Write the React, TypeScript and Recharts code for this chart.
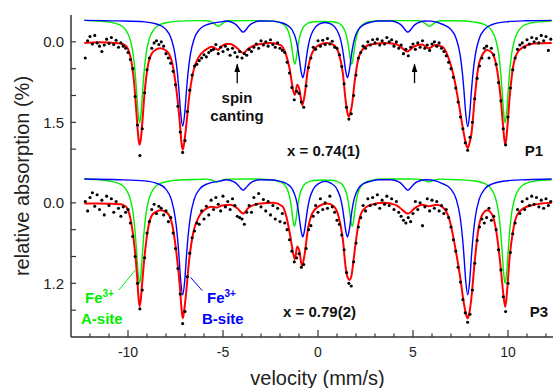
import React from 'react';
import { ComposedChart, Line, Scatter, XAxis, YAxis, ReferenceLine } from 'recharts';

// velocity channels: -12.25 ... 12.25 mm/s, step 0.125
const V_START = -12.25;
const V_STEP = 0.125;

// measured absorption (%), panel P1
const topDots = [
  0.30, -0.02, -0.10, 0.04, -0.12, 0.02, 0.08, 0.18, 0.06, -0.05, 0.03, -0.08, 0.05, -0.03, 0.10,
  0.02, 0.08, 0.12, 0.20, 0.33, 0.50, 1.02, 1.55, 2.12, 1.62, 0.95, 0.52, 0.30, 0.12, 0.02,
  -0.02, 0.05, 0.00, 0.08, 0.22, 0.30, 0.40, 0.55, 0.80, 1.20, 1.68, 2.06, 1.84, 1.30, 0.90,
  0.62, 0.45, 0.42, 0.35, 0.30, 0.24, 0.28, 0.20, 0.16, 0.14, 0.05, 0.22, 0.10, 0.18, 0.08,
  0.14, 0.25, 0.12, 0.20, 0.28, 0.18, 0.30, 0.22, 0.25, 0.14, 0.18, 0.10, 0.04, 0.12, -0.02,
  0.06, 0.00, 0.08, -0.04, 0.05, 0.10, 0.02, 0.12, 0.16, 0.20, 0.38, 0.58, 0.85, 1.08, 0.92,
  0.96, 1.12, 1.22, 0.82, 0.48, 0.30, 0.10, 0.14, -0.02, 0.08, -0.03, 0.05, -0.06, 0.04, -0.01,
  0.10, 0.12, 0.24, 0.46, 0.78, 1.22, 1.44, 1.34, 1.00, 0.62, 0.30, 0.20, 0.08, 0.12, 0.00,
  0.06, -0.04, 0.02, -0.05, 0.06, -0.02, 0.04, -0.08, 0.00, -0.04, 0.08, 0.00, 0.12, 0.06, 0.22,
  0.14, 0.26, 0.10, 0.04, 0.14, 0.02, 0.10, -0.02, 0.12, 0.06, 0.16, 0.04, 0.00, 0.08, 0.02,
  0.12, 0.18, 0.26, 0.38, 0.50, 0.66, 0.86, 1.12, 1.40, 1.62, 1.88, 2.02, 1.78, 1.50, 1.06,
  0.68, 0.45, 0.30, 0.12, 0.08, 0.30, 0.12, 0.24, 0.42, 0.76, 1.10, 1.62, 1.92, 1.40, 0.86,
  0.52, 0.30, 0.14, 0.06, 0.02, 0.10, -0.04, 0.04, -0.08, 0.00, -0.06, 0.02, -0.12, -0.02, -0.10, 0.16, -0.05,
];

// measured absorption (%), panel P3
const bottomDots = [
  -0.02, 0.12, -0.08, -0.15, 0.05, -0.12, 0.10, -0.04, 0.18, -0.10, 0.04, -0.06, 0.14, -0.02, 0.08,
  0.20, 0.06, 0.14, 0.10, 0.30, 0.50, 0.80, 1.20, 1.58, 1.30, 0.82, 0.45, 0.28, 0.10, 0.02,
  0.16, 0.05, 0.08, 0.18, 0.12, 0.28, 0.22, 0.45, 0.68, 0.98, 1.36, 1.80, 1.62, 1.10, 0.75,
  0.52, 0.42, 0.30, 0.32, 0.12, 0.24, 0.05, 0.18, -0.04, 0.10, -0.08, 0.02, 0.12, -0.10, 0.06,
  -0.02, 0.10, -0.06, 0.04, 0.20, 0.22, 0.24, 0.32, 0.14, 0.04, 0.14, -0.08, 0.02, -0.14, 0.06,
  -0.05, 0.12, -0.02, 0.18, 0.04, 0.24, 0.08, 0.28, 0.16, 0.30, 0.40, 0.55, 0.72, 0.88, 0.82,
  0.76, 0.96, 0.92, 0.68, 0.40, 0.34, 0.20, 0.04, 0.14, -0.06, 0.10, 0.00, 0.08, -0.10, 0.06,
  0.14, 0.26, 0.32, 0.48, 0.70, 1.04, 1.20, 1.24, 0.88, 0.60, 0.36, 0.22, 0.04, 0.12, -0.06,
  0.04, -0.08, 0.02, -0.12, 0.08, -0.04, 0.02, -0.10, 0.04, -0.06, 0.10, -0.02, 0.14, 0.20, 0.26,
  0.30, 0.22, 0.28, 0.16, -0.02, 0.10, 0.00, 0.34, 0.06, -0.06, 0.12, -0.04, 0.08, -0.02, 0.12,
  0.04, 0.16, 0.10, 0.22, 0.36, 0.55, 0.72, 0.96, 1.18, 1.44, 1.64, 1.78, 1.66, 1.30, 0.90,
  0.56, 0.36, 0.24, 0.30, 0.22, 0.08, 0.26, 0.20, 0.40, 0.70, 1.00, 1.40, 1.62, 1.20, 0.74,
  0.46, 0.30, 0.10, 0.16, -0.02, 0.10, -0.06, 0.04, -0.10, 0.02, -0.08, 0.06, -0.04, 0.08, -0.06, 0.04, -0.02,
];

// fitted curves, [velocity, absorption]
const topFit: [number, number][] = [
  [-12.3, 0.02], [-11.5, 0.01], [-10.8, 0.02], [-10.39, 0.03], [-10.13, 0.07], [-9.87, 0.28],
  [-9.69, 0.72], [-9.55, 1.35], [-9.45, 1.8], [-9.39, 1.92], [-9.32, 1.8], [-9.25, 1.52],
  [-9.13, 0.96], [-8.96, 0.46], [-8.73, 0.21], [-8.5, 0.14], [-8.29, 0.12], [-7.94, 0.18],
  [-7.67, 0.4], [-7.45, 0.9], [-7.27, 1.52], [-7.18, 1.9], [-7.12, 2.01], [-7.05, 1.9],
  [-6.94, 1.58], [-6.78, 1.02], [-6.57, 0.56], [-6.27, 0.28], [-5.92, 0.15], [-5.57, 0.09],
  [-5.4, 0.12], [-5.27, 0.15], [-5.1, 0.09], [-4.85, 0.04], [-4.61, 0.04], [-4.25, 0.12],
  [-3.94, 0.21], [-3.64, 0.12], [-3.2, 0.05], [-2.5, 0.02], [-1.97, 0.06], [-1.71, 0.21],
  [-1.48, 0.53], [-1.31, 0.9], [-1.22, 0.99], [-1.09, 0.8], [-0.97, 0.9], [-0.83, 1.18],
  [-0.69, 0.96], [-0.54, 0.53], [-0.31, 0.21], [0.04, 0.06], [0.48, 0.02], [0.83, 0.06],
  [1.09, 0.21], [1.31, 0.59], [1.45, 1.08], [1.55, 1.32], [1.62, 1.39], [1.7, 1.32],
  [1.8, 1.15], [1.92, 0.77], [2.09, 0.37], [2.33, 0.15], [2.76, 0.05], [3.46, 0.02],
  [4.08, 0.04], [4.34, 0.09], [4.69, 0.18], [5.04, 0.09], [5.48, 0.05], [5.83, 0.12],
  [6.18, 0.06], [6.54, 0.09], [6.88, 0.31], [7.15, 0.65], [7.41, 1.15], [7.64, 1.64],
  [7.8, 1.92], [7.88, 1.98], [7.98, 1.88], [8.08, 1.7], [8.24, 1.08], [8.41, 0.53],
  [8.64, 0.25], [8.91, 0.15], [9.17, 0.21], [9.43, 0.53], [9.61, 1.02], [9.73, 1.52],
  [9.85, 1.92], [9.91, 1.8], [9.97, 1.58], [10.09, 1.02], [10.27, 0.46], [10.48, 0.21],
  [10.83, 0.09], [11.36, 0.03], [12.3, 0.02],
];

const topA: [number, number][] = [
  [-12.3, -0.4], [-11.5, -0.385], [-10.99, -0.368], [-10.49, -0.324], [-10.14, -0.231], [-9.89, -0.045],
  [-9.74, 0.204], [-9.63, 0.55], [-9.55, 0.915], [-9.47, 1.318], [-9.39, 1.51], [-9.31, 1.318],
  [-9.23, 0.915], [-9.15, 0.55], [-9.04, 0.204], [-8.89, -0.045], [-8.64, -0.231], [-8.29, -0.324],
  [-7.79, -0.368], [-7.0, -0.39], [-6.2, -0.395], [-5.85, -0.392], [-5.55, -0.36], [-5.4, -0.322],
  [-5.25, -0.29], [-5.1, -0.322], [-4.95, -0.36], [-4.65, -0.392], [-3.5, -0.395], [-2.5, -0.39],
  [-2.22, -0.378], [-1.92, -0.348], [-1.67, -0.273], [-1.52, -0.153], [-1.42, 0.005], [-1.36, 0.146],
  [-1.29, 0.329], [-1.22, 0.42], [-1.15, 0.329], [-1.08, 0.146], [-1.02, 0.005], [-0.92, -0.153],
  [-0.77, -0.273], [-0.52, -0.348], [-0.22, -0.375], [0.27, -0.38], [0.77, -0.375], [1.07, -0.348],
  [1.32, -0.273], [1.47, -0.153], [1.57, 0.005], [1.63, 0.146], [1.7, 0.329], [1.77, 0.42],
  [1.84, 0.329], [1.91, 0.146], [1.97, 0.005], [2.07, -0.153], [2.22, -0.273], [2.47, -0.348],
  [2.77, -0.378], [3.5, -0.395], [4.6, -0.395], [5.27, -0.392], [5.57, -0.36], [5.72, -0.322],
  [5.87, -0.29], [6.02, -0.322], [6.17, -0.36], [6.47, -0.392], [7.3, -0.393], [8.25, -0.368],
  [8.75, -0.324], [9.1, -0.231], [9.35, -0.045], [9.5, 0.204], [9.61, 0.55], [9.69, 0.915],
  [9.77, 1.318], [9.85, 1.51], [9.93, 1.318], [10.01, 0.915], [10.09, 0.55], [10.2, 0.204],
  [10.35, -0.045], [10.6, -0.231], [10.95, -0.324], [11.45, -0.368], [12.3, -0.385],
];

const topB: [number, number][] = [
  [-12.3, -0.4], [-10.5, -0.39], [-9.12, -0.372], [-8.42, -0.323], [-8.02, -0.236], [-7.72, -0.054],
  [-7.52, 0.243], [-7.4, 0.58], [-7.32, 0.897], [-7.22, 1.352], [-7.12, 1.57], [-7.02, 1.352],
  [-6.92, 0.897], [-6.84, 0.58], [-6.72, 0.243], [-6.52, -0.054], [-6.22, -0.236], [-5.82, -0.323],
  [-5.12, -0.372], [-4.84, -0.387], [-4.44, -0.349], [-4.24, -0.295], [-4.09, -0.226], [-3.94, -0.18],
  [-3.79, -0.226], [-3.64, -0.295], [-3.44, -0.349], [-3.04, -0.387], [-2.44, -0.385], [-2.05, -0.366],
  [-1.65, -0.317], [-1.35, -0.216], [-1.17, -0.054], [-1.06, 0.13], [-0.98, 0.324], [-0.89, 0.551],
  [-0.8, 0.67], [-0.71, 0.551], [-0.62, 0.324], [-0.54, 0.13], [-0.43, -0.054], [-0.25, -0.216],
  [0.05, -0.33], [0.37, -0.36], [0.7, -0.33], [1.0, -0.216], [1.18, -0.054], [1.29, 0.13],
  [1.37, 0.324], [1.46, 0.551], [1.55, 0.67], [1.64, 0.551], [1.73, 0.324], [1.81, 0.13],
  [1.92, -0.054], [2.1, -0.216], [2.4, -0.317], [2.8, -0.366], [3.2, -0.387], [3.83, -0.387],
  [4.23, -0.349], [4.43, -0.295], [4.58, -0.226], [4.73, -0.18], [4.88, -0.226], [5.03, -0.295],
  [5.23, -0.349], [5.63, -0.387], [5.95, -0.385], [6.58, -0.323], [6.98, -0.236], [7.28, -0.054],
  [7.48, 0.243], [7.6, 0.58], [7.68, 0.897], [7.78, 1.352], [7.88, 1.58], [7.98, 1.352],
  [8.08, 0.897], [8.16, 0.58], [8.28, 0.243], [8.48, -0.054], [8.78, -0.236], [9.18, -0.323],
  [9.88, -0.372], [11.0, -0.392], [12.3, -0.4],
];

const bottomFit: [number, number][] = [
  [-12.3, 0.01], [-11.5, 0.01], [-10.8, 0.015], [-10.39, 0.02], [-10.2, 0.04], [-10.04, 0.08],
  [-9.82, 0.31], [-9.64, 0.7], [-9.52, 1.1], [-9.45, 1.4], [-9.39, 1.54], [-9.33, 1.45],
  [-9.27, 1.25], [-9.13, 0.8], [-8.96, 0.41], [-8.73, 0.18], [-8.5, 0.13], [-8.29, 0.11],
  [-7.94, 0.15], [-7.67, 0.33], [-7.45, 0.75], [-7.27, 1.25], [-7.19, 1.55], [-7.12, 1.72],
  [-7.05, 1.62], [-6.96, 1.4], [-6.78, 0.85], [-6.57, 0.45], [-6.27, 0.21], [-5.83, 0.08],
  [-5.55, 0.06], [-5.31, 0.07], [-5.05, 0.04], [-4.61, 0.03], [-4.25, 0.08], [-3.94, 0.16],
  [-3.64, 0.07], [-3.03, 0.01], [-2.33, 0.0], [-1.88, 0.05], [-1.66, 0.21], [-1.45, 0.51],
  [-1.31, 0.75], [-1.22, 0.84], [-1.09, 0.65], [-0.97, 0.73], [-0.85, 0.94], [-0.71, 0.78],
  [-0.54, 0.41], [-0.31, 0.16], [0.04, 0.05], [0.48, 0.01], [0.83, 0.05], [1.09, 0.21],
  [1.31, 0.55], [1.45, 0.95], [1.57, 1.12], [1.66, 1.15], [1.75, 1.1], [1.83, 0.95],
  [1.96, 0.65], [2.13, 0.31], [2.36, 0.11], [2.76, 0.03], [3.46, 0.0], [4.08, 0.03],
  [4.34, 0.08], [4.73, 0.16], [5.13, 0.07], [5.48, 0.03], [5.83, 0.05], [6.27, 0.03],
  [6.62, 0.08], [6.94, 0.27], [7.18, 0.6], [7.45, 1.05], [7.68, 1.5], [7.8, 1.67],
  [7.88, 1.72], [7.98, 1.62], [8.08, 1.4], [8.24, 0.9], [8.41, 0.45], [8.64, 0.18],
  [8.91, 0.11], [9.17, 0.18], [9.43, 0.51], [9.61, 0.95], [9.75, 1.35], [9.85, 1.55],
  [9.91, 1.45], [9.97, 1.25], [10.09, 0.8], [10.27, 0.41], [10.48, 0.18], [10.83, 0.08],
  [11.36, 0.03], [12.3, 0.0],
];

const bottomA: [number, number][] = [
  [-12.3, -0.355], [-11.5, -0.345], [-10.99, -0.326], [-10.49, -0.29], [-10.14, -0.215], [-9.89, -0.064],
  [-9.74, 0.139], [-9.63, 0.42], [-9.55, 0.716], [-9.47, 1.044], [-9.39, 1.2], [-9.31, 1.044],
  [-9.23, 0.716], [-9.15, 0.42], [-9.04, 0.139], [-8.89, -0.064], [-8.64, -0.215], [-8.29, -0.29],
  [-7.79, -0.326], [-7.0, -0.345], [-6.2, -0.35], [-5.9, -0.353], [-5.6, -0.34], [-5.45, -0.323],
  [-5.3, -0.31], [-5.15, -0.323], [-5.0, -0.34], [-4.7, -0.353], [-3.5, -0.355], [-2.5, -0.345],
  [-2.24, -0.333], [-1.94, -0.307], [-1.69, -0.243], [-1.54, -0.14], [-1.44, -0.005], [-1.38, 0.116],
  [-1.31, 0.272], [-1.24, 0.35], [-1.17, 0.272], [-1.1, 0.116], [-1.04, -0.005], [-0.94, -0.14],
  [-0.79, -0.243], [-0.54, -0.307], [-0.24, -0.333], [0.28, -0.34], [0.8, -0.333], [1.1, -0.307],
  [1.35, -0.243], [1.5, -0.14], [1.6, -0.005], [1.66, 0.116], [1.73, 0.272], [1.8, 0.35],
  [1.87, 0.272], [1.94, 0.116], [2.0, -0.005], [2.1, -0.14], [2.25, -0.243], [2.5, -0.307],
  [2.8, -0.333], [3.5, -0.355], [4.6, -0.355], [5.23, -0.353], [5.53, -0.34], [5.68, -0.323],
  [5.83, -0.31], [5.98, -0.323], [6.13, -0.34], [6.43, -0.353], [7.3, -0.345], [8.25, -0.326],
  [8.75, -0.29], [9.1, -0.215], [9.35, -0.064], [9.5, 0.139], [9.61, 0.42], [9.69, 0.716],
  [9.77, 1.044], [9.85, 1.2], [9.93, 1.044], [10.01, 0.716], [10.09, 0.42], [10.2, 0.139],
  [10.35, -0.064], [10.6, -0.215], [10.95, -0.29], [11.45, -0.326], [12.3, -0.345],
];

const bottomB: [number, number][] = [
  [-12.3, -0.355], [-10.5, -0.345], [-9.12, -0.327], [-8.42, -0.284], [-8.02, -0.208], [-7.72, -0.049],
  [-7.52, 0.211], [-7.4, 0.505], [-7.32, 0.782], [-7.22, 1.18], [-7.12, 1.37], [-7.02, 1.18],
  [-6.92, 0.782], [-6.84, 0.505], [-6.72, 0.211], [-6.52, -0.049], [-6.22, -0.208], [-5.82, -0.284],
  [-5.12, -0.327], [-4.84, -0.343], [-4.44, -0.315], [-4.24, -0.275], [-4.09, -0.224], [-3.94, -0.19],
  [-3.79, -0.224], [-3.64, -0.275], [-3.44, -0.315], [-3.04, -0.343], [-2.44, -0.34], [-2.05, -0.324],
  [-1.65, -0.285], [-1.35, -0.203], [-1.17, -0.073], [-1.06, 0.075], [-0.98, 0.232], [-0.89, 0.414],
  [-0.8, 0.51], [-0.71, 0.414], [-0.62, 0.232], [-0.54, 0.075], [-0.43, -0.073], [-0.25, -0.203],
  [0.05, -0.29], [0.37, -0.32], [0.7, -0.29], [1.0, -0.203], [1.18, -0.073], [1.29, 0.075],
  [1.37, 0.232], [1.46, 0.414], [1.55, 0.51], [1.64, 0.414], [1.73, 0.232], [1.81, 0.075],
  [1.92, -0.073], [2.1, -0.203], [2.4, -0.285], [2.8, -0.324], [3.2, -0.343], [3.83, -0.343],
  [4.23, -0.315], [4.43, -0.275], [4.58, -0.224], [4.73, -0.19], [4.88, -0.224], [5.03, -0.275],
  [5.23, -0.315], [5.63, -0.343], [5.95, -0.34], [6.58, -0.284], [6.98, -0.208], [7.28, -0.049],
  [7.48, 0.211], [7.6, 0.505], [7.68, 0.782], [7.78, 1.18], [7.88, 1.37], [7.98, 1.18],
  [8.08, 0.782], [8.16, 0.505], [8.28, 0.211], [8.48, -0.049], [8.78, -0.208], [9.18, -0.284],
  [9.88, -0.327], [11.0, -0.345], [12.3, -0.355],
];

const xTicks = [-12, -11, -10, -9, -8, -7, -6, -5, -4, -3, -2, -1, 0, 1, 2, 3, 4, 5, 6, 7, 8, 9, 10, 11, 12];
const xMajor = [-10, -5, 0, 5, 10];
const topYTicks = [0, 0.5, 1, 1.5, 2];
const topYLabels = ['0.0', '', '', '1.5', ''];
const bottomYTicks = [0, 0.4, 0.8, 1.2, 1.6];
const bottomYLabels = ['0.0', '', '', '1.2', ''];

const FONT = '"Liberation Sans", Arial, sans-serif';
const AXIS = '#333';
const GREEN = '#00ee00';
const BLUE = '#0000ff';
const RED = '#ff0000';

const toPts = (arr: [number, number][]) => arr.map(([v, y]) => ({ v, y }));
const toDots = (arr: number[]) => arr.map((y, i) => ({ v: V_START + i * V_STEP, y }));

const XTick = (props: any) => {
  const { x, y, payload, showLabels } = props;
  const major = xMajor.includes(payload.value);
  return (
    <g>
      <line x1={x} x2={x} y1={y} y2={y - (major ? 7 : 3.5)} stroke={AXIS} strokeWidth={1.2} />
      {showLabels && major && (
        <text x={x} y={y + 20} textAnchor="middle" fontSize={14} fill="#222" fontFamily={FONT}>
          {payload.value}
        </text>
      )}
    </g>
  );
};

const YTick = (props: any) => {
  const { x, y, payload, ticks, labels } = props;
  const label = labels[ticks.indexOf(payload.value)];
  return (
    <g>
      <line x1={x} x2={x + 5} y1={y} y2={y} stroke={AXIS} strokeWidth={1.2} />
      {label && (
        <text x={x - 7} y={y} dy="0.35em" textAnchor="end" fontSize={15} fill="#222" fontFamily={FONT}>
          {label}
        </text>
      )}
    </g>
  );
};

const dotShape = (p: any) => <circle cx={p.cx} cy={p.cy} r={1.55} fill="#000" />;

const Panel = ({ dots, fit, siteA, siteB, yDomain, yTicks, yLabels, bottom, children }: any) => (
  <ComposedChart
    width={575}
    height={bottom ? 212 : 176}
    margin={{ top: bottom ? 0 : 15, right: 10, bottom: 0, left: 0 }}
  >
    {!bottom && (
      <XAxis xAxisId="top" orientation="top" type="number" dataKey="v" domain={[-13, 13]} allowDataOverflow
        height={0} tick={false} tickLine={false} axisLine={{ stroke: AXIS, strokeWidth: 2 }} />
    )}
    <XAxis xAxisId="x" type="number" dataKey="v" domain={[-13, 13]} allowDataOverflow ticks={xTicks} interval={0}
      height={bottom ? 51 : 0} tickSize={0} tickMargin={0} tickLine={false}
      axisLine={{ stroke: AXIS, strokeWidth: 1.5 }} tick={<XTick showLabels={bottom} />} />
    <YAxis yAxisId="y" type="number" domain={yDomain} reversed allowDataOverflow ticks={yTicks} interval={0}
      width={71} tickSize={0} tickMargin={0} tickLine={false}
      axisLine={{ stroke: AXIS, strokeWidth: 1.5 }} tick={<YTick ticks={yTicks} labels={yLabels} />} />
    <Line xAxisId="x" yAxisId="y" data={toPts(siteA)} dataKey="y" type="monotone" stroke={GREEN} strokeWidth={1.4}
      dot={false} activeDot={false} isAnimationActive={false} />
    <Line xAxisId="x" yAxisId="y" data={toPts(siteB)} dataKey="y" type="monotone" stroke={BLUE} strokeWidth={1.4}
      dot={false} activeDot={false} isAnimationActive={false} />
    <Line xAxisId="x" yAxisId="y" data={toPts(fit)} dataKey="y" type="monotone" stroke={RED} strokeWidth={2}
      dot={false} activeDot={false} isAnimationActive={false} />
    <Scatter xAxisId="x" yAxisId="y" data={toDots(dots)} dataKey="y" shape={dotShape} isAnimationActive={false} />
    {children}
  </ComposedChart>
);

const boldText = { fontFamily: FONT, fontWeight: 700, fontSize: 15, fill: '#111' };

export default function App() {
  return (
    <div style={{ position: 'absolute', left: 0, top: 0, width: 553, height: 388, overflow: 'hidden', background: '#fff' }}>
      <div style={{ position: 'absolute', left: 0, top: 0 }}>
        <Panel dots={topDots} fit={topFit} siteA={topA} siteB={topB} yDomain={[-0.5, 2.5]}
          yTicks={topYTicks} yLabels={topYLabels} bottom={false}>
          <ReferenceLine xAxisId="x" yAxisId="y" segment={[{ x: -4.25, y: 0.77 }, { x: -4.25, y: 0.42 }]}
            stroke="#000" strokeWidth={1.3} markerEnd="url(#arrowHead)" />
          <ReferenceLine xAxisId="x" yAxisId="y" segment={[{ x: 5.08, y: 0.77 }, { x: 5.08, y: 0.42 }]}
            stroke="#000" strokeWidth={1.3} markerEnd="url(#arrowHead)" />
        </Panel>
      </div>
      <div style={{ position: 'absolute', left: 0, top: 176 }}>
        <Panel dots={bottomDots} fit={bottomFit} siteA={bottomA} siteB={bottomB} yDomain={[-0.4, 2.0]}
          yTicks={bottomYTicks} yLabels={bottomYLabels} bottom>
          <ReferenceLine xAxisId="x" yAxisId="y" segment={[{ x: -10.48, y: 1.3 }, { x: -9.61, y: 1.0 }]}
            stroke={GREEN} strokeWidth={1} />
          <ReferenceLine xAxisId="x" yAxisId="y" segment={[{ x: -6.09, y: 1.31 }, { x: -6.71, y: 1.11 }]}
            stroke={BLUE} strokeWidth={1} />
        </Panel>
      </div>
      <svg width={553} height={388} style={{ position: 'absolute', left: 0, top: 0, pointerEvents: 'none' }}>
        <defs>
          <marker id="arrowHead" viewBox="0 0 10 10" refX="9" refY="5" markerWidth="9" markerHeight="6"
            markerUnits="userSpaceOnUse" orient="auto" preserveAspectRatio="none">
            <path d="M0,0 L10,5 L0,10 z" fill="#000" />
          </marker>
        </defs>
        <text x={237} y={103} textAnchor="middle" style={boldText}>spin</text>
        <text x={237} y={121} textAnchor="middle" style={boldText}>canting</text>
        <text x={287} y={156} style={boldText}>x = 0.74(1)</text>
        <text x={543} y={156} textAnchor="end" style={boldText}>P1</text>
        <text x={283} y={317} style={boldText}>x = 0.79(2)</text>
        <text x={548} y={317} textAnchor="end" style={boldText}>P3</text>
        <text x={85} y={303} style={{ ...boldText, fill: GREEN }}>
          Fe<tspan dy={-6} fontSize={10}>3+</tspan>
        </text>
        <text x={81} y={324} style={{ ...boldText, fill: GREEN }}>A-site</text>
        <text x={207} y={303} style={{ ...boldText, fill: BLUE }}>
          Fe<tspan dy={-6} fontSize={10}>3+</tspan>
        </text>
        <text x={202} y={324} style={{ ...boldText, fill: BLUE }}>B-site</text>
        <text transform="translate(29,176) rotate(-90)" textAnchor="middle"
          style={{ fontFamily: FONT, fontSize: 20, fill: '#222' }}>relative absorption (%)</text>
        <text x={317.5} y={385} textAnchor="middle" style={{ fontFamily: FONT, fontSize: 20, fill: '#222' }}>
          velocity (mm/s)
        </text>
      </svg>
    </div>
  );
}
